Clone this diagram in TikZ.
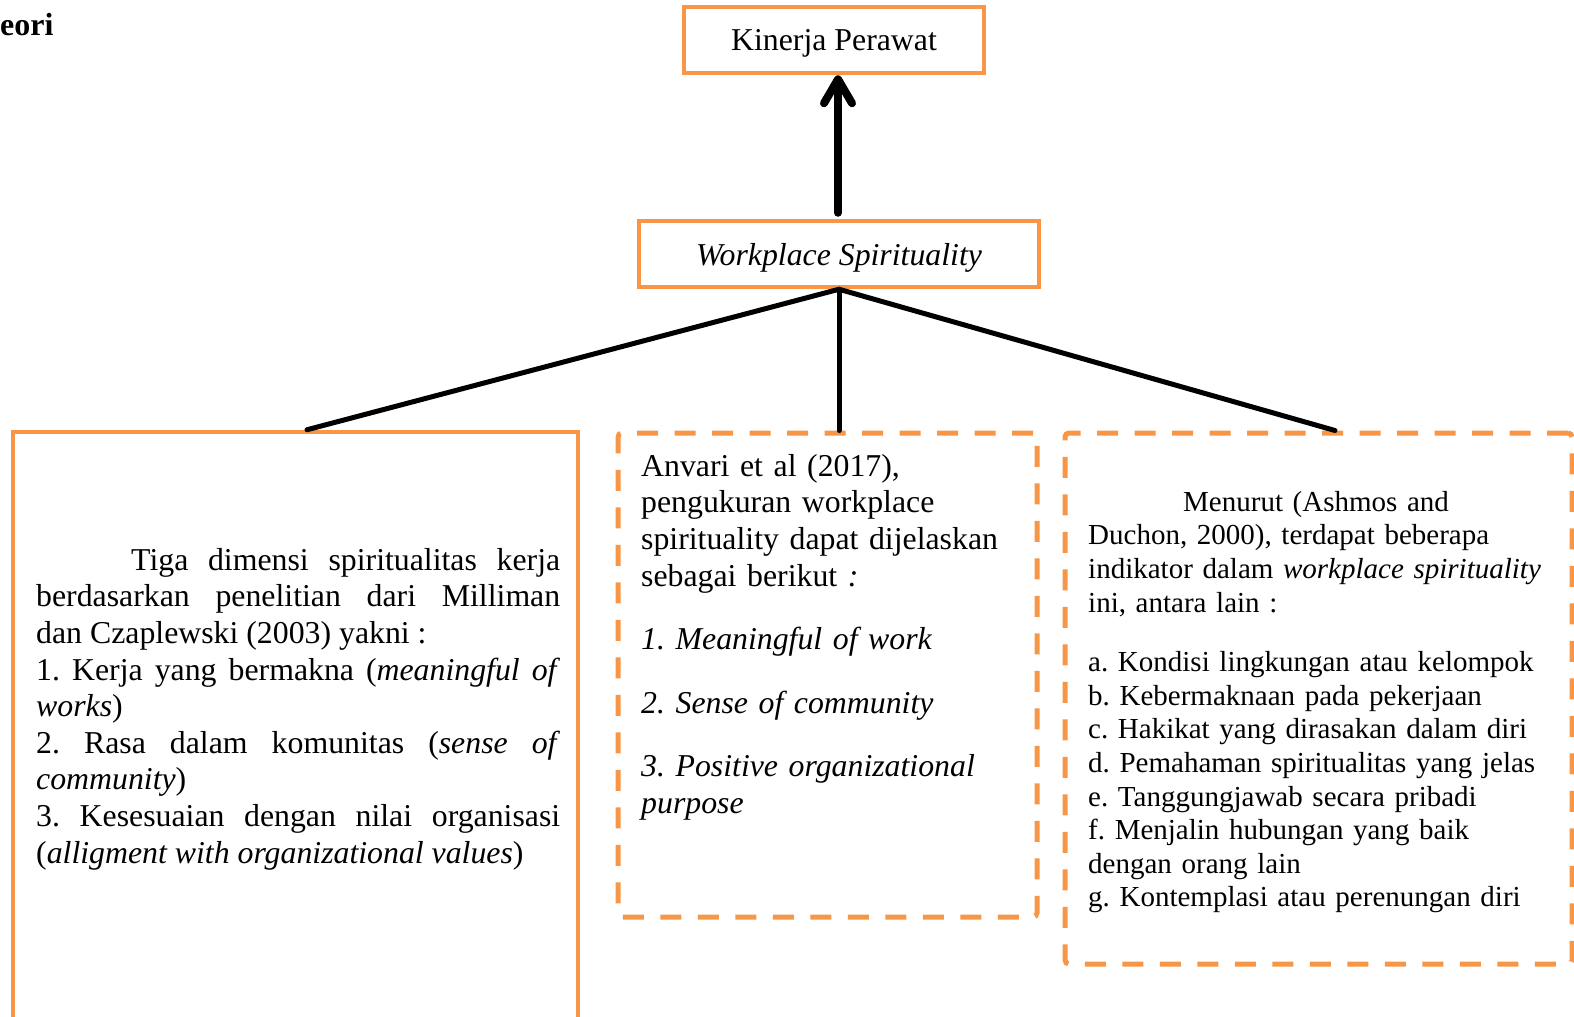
\documentclass[tikz,border=0pt]{standalone}
\usepackage{fontspec}
\setmainfont{Liberation Serif}
\usetikzlibrary{arrows.meta}
\definecolor{boxorange}{RGB}{247,150,70}
\tikzset{
	solidbox/.style={draw=boxorange, line width=4.5pt, inner sep=0pt},
	dashbox/.style={draw=boxorange, line width=5pt, dash pattern=on 21pt off 16.5pt, rounded corners=4pt, inner sep=0pt},
	link/.style={draw=black, line width=5pt, line cap=round},
	bigtext/.style={inner sep=0pt, font=\fontsize{31.8}{36.6}\selectfont},
	smalltext/.style={inner sep=0pt, font=\fontsize{29}{33.6}\selectfont},
}

\begin{document}
\frenchspacing
\begin{tikzpicture}[x=1pt, y=-1pt]
			%%%%% START %%%%%
			\useasboundingbox (0,0) rectangle (1574,1017);
			
			\node[anchor=base west, inner sep=0pt, font=\fontsize{32}{38}\selectfont\bfseries] (teori) at (0,35) {eori};
			
			\node[solidbox, minimum width=300pt, minimum height=66pt, text depth=0pt, font=\fontsize{31.8}{36.6}\selectfont] (kinerja) at (834,40) {Kinerja Perawat};
			\node[solidbox, minimum width=400pt, minimum height=66pt, text depth=0pt, font=\fontsize{31.8}{36.6}\selectfont\itshape] (ws) at (839,254) {Workplace Spirituality};
			
			\node[solidbox, minimum width=565pt, minimum height=608pt] (lbox) at (295.5,736) {};
			\node[dashbox, minimum width=419pt, minimum height=484pt] (mbox) at (827.5,675) {};
			\node[dashbox, minimum width=507pt, minimum height=531pt] (rbox) at (1318.5,698.5) {};
			
			\draw[link, line width=8pt, -{Straight Barb[length=24pt, width=28pt, round]}, shorten <=6pt] ([xshift=-1pt]ws.north) -- ([xshift=4pt]kinerja.south);
			\draw[link] (ws.south) -- ([xshift=11.5pt]lbox.north);
			\draw[link] (ws.south) -- (ws.south |- mbox.north);
			\draw[link] (ws.south) -- ([xshift=16.5pt]rbox.north);
			
			\node[bigtext, anchor=north west, text width=524pt, align=justify] (dimtext) at (36,548) {%
				\hspace*{95pt}Tiga dimensi spiritualitas kerja\linebreak berdasarkan penelitian dari Milliman\linebreak dan Czaplewski (2003) yakni :\par
				1. Kerja yang bermakna (\textit{meaningful of}\linebreak \textit{works})\par
				2. Rasa dalam komunitas (\textit{sense of}\linebreak \textit{community})\par
				3. Kesesuaian dengan nilai organisasi\linebreak (\textit{alligment with organizational values})};
			
			\node[bigtext, anchor=north west, text width=400pt, align=left] (anvaritext) at (641,454) {%
				Anvari et al (2017),\\
				pengukuran workplace\\
				spirituality dapat dijelaskan\\
				sebagai berikut \textit{:}\\[27pt]
				\textit{1. Meaningful of work}\\[27pt]
				\textit{2. Sense of community}\\[27pt]
				\textit{3. Positive organizational}\\
				\textit{purpose}};
			
			\node[smalltext, anchor=north west, text width=470pt, align=left] (ashmostext) at (1088,491) {%
				\hspace*{95pt}Menurut (Ashmos and\\
				Duchon, 2000), terdapat beberapa\\
				indikator dalam \textit{workplace spirituality}\\
				ini, antara lain :\\[26pt]
				a. Kondisi lingkungan atau kelompok\\
				b. Kebermaknaan pada pekerjaan\\
				c. Hakikat yang dirasakan dalam diri\\
				d. Pemahaman spiritualitas yang jelas\\
				e. Tanggungjawab secara pribadi\\
				f. Menjalin hubungan yang baik\\
				dengan orang lain\\
				g. Kontemplasi atau perenungan diri};
			%%%%% END %%%%%
\end{tikzpicture}
\end{document}
